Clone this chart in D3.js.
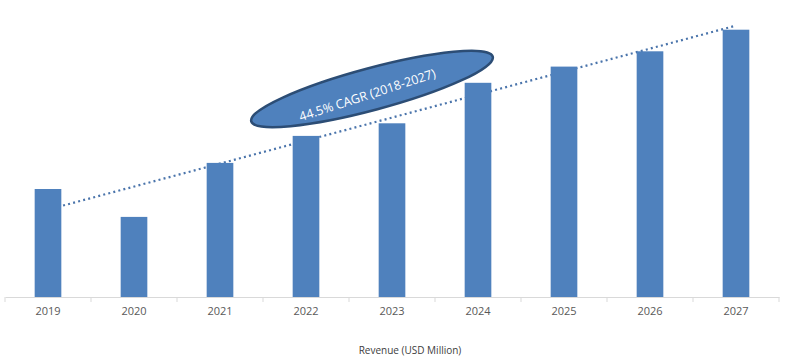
<!DOCTYPE html>
<html>
<head>
<meta charset="utf-8">
<script src="https://cdn.jsdelivr.net/npm/d3@7"></script>
<style>
  body { margin: 0; background: #fff; }
  svg { display: block; }
</style>
</head>
<body>
<div id="chart"></div>
<script>
(function() {
	var years = ["2019", "2020", "2021", "2022", "2023", "2024", "2025", "2026", "2027"];
	var revenue = [12.0, 8.9, 14.9, 17.9, 19.3, 23.8, 25.6, 27.3, 29.7];
	var cagrLabel = "44.5% CAGR (2018-2027)";
	var axisTitle = "Revenue (USD Million)";

	var width = 796,
		height = 362;

	var svg = d3.select("#chart")
		.append("svg")
		.attr("width", width)
		.attr("height", height)
		.style("font-family", "'Open Sans', sans-serif")

	var x = d3.scaleBand().domain(years).range([5, 779]).padding(0)
	var y = d3.scaleLinear().domain([0, 33]).range([297, 0])

	var barW = x.bandwidth() * 0.31

	// linear trendline (least squares over category index)
	var n = years.length,
		mx = d3.mean(years, function(d, i) { return i; }),
		my = d3.mean(revenue)
	var sxy = d3.sum(revenue, function(v, i) { return (i - mx) * (v - my); }),
		sxx = d3.sum(revenue, function(v, i) { return (i - mx) * (i - mx); })
	var slope = sxy / sxx,
		icpt = my - slope * mx

	var trend = [0, n - 1].map(function(i) {
		return [x(years[i]) + x.bandwidth() / 2, y(icpt + slope * i)]
	})

	svg.append("path")
		.attr("d", d3.line()(trend))
		.attr("fill", "none")
		.attr("stroke", "#4a74ab")
		.attr("stroke-width", 2.2)
		.attr("stroke-dasharray", "2,3.2")
		.attr("stroke-linecap", "butt")

	svg.selectAll(".bar")
		.data(revenue)
		.enter().append("rect")
		.attr("class", "bar")
		.attr("x", function(d, i) { return x(years[i]) + (x.bandwidth() - barW) / 2; })
		.attr("width", barW)
		.attr("y", function(d) { return y(d); })
		.attr("height", function(d) { return y(0) - y(d); })
		.attr("fill", "#4f81bd")

	// axis
	var axis = svg.append("g")
		.attr("transform", "translate(0," + y(0) + ")")
		.call(d3.axisBottom(x).tickSize(0).tickPadding(10))
	axis.select(".domain").attr("stroke", "#d9d9d9")
	axis.selectAll("text")
		.attr("fill", "#595959")
		.style("font-size", "11px")
		.style("font-family", "'Open Sans', sans-serif")

	var bounds = years.map(function(d) { return x(d); }).concat([x.range()[1]])
	axis.selectAll(".bound")
		.data(bounds)
		.enter().append("line")
		.attr("class", "bound")
		.attr("x1", function(d) { return d; })
		.attr("x2", function(d) { return d; })
		.attr("y1", 0)
		.attr("y2", 5)
		.attr("stroke", "#d9d9d9")

	svg.append("text")
		.attr("x", 410)
		.attr("y", 354)
		.attr("text-anchor", "middle")
		.attr("fill", "#404040")
		.style("font-size", "10px")
		.text(axisTitle)

	// CAGR callout
	var callout = svg.append("g")
		.attr("transform", "translate(372,89) rotate(-15)")

	callout.append("ellipse")
		.attr("rx", 125)
		.attr("ry", 21)
		.attr("fill", "#4f81bd")
		.attr("stroke", "#2c4d75")
		.attr("stroke-width", 2.5)

	callout.append("text")
		.attr("transform", "translate(-6,5) rotate(-3)")
		.attr("y", 4)
		.attr("text-anchor", "middle")
		.attr("fill", "#fff")
		.style("font-size", "12.5px")
		.text(cagrLabel)
})();
</script>
</body>
</html>
